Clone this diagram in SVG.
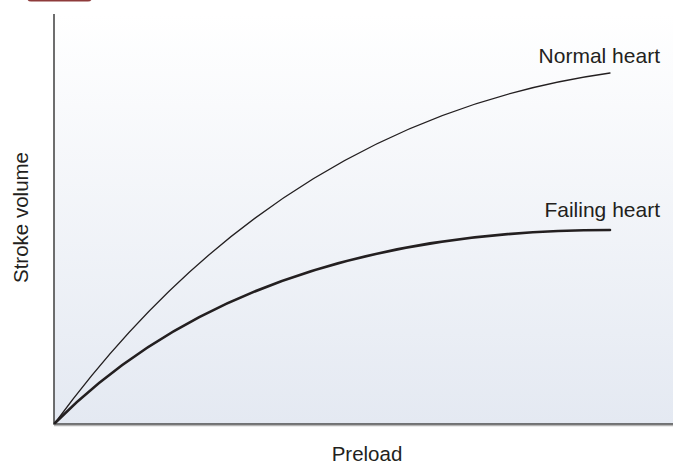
<svg xmlns="http://www.w3.org/2000/svg" width="673" height="464" viewBox="0 0 673 464">
<defs>
<linearGradient id="bg" x1="0" y1="0" x2="0" y2="1">
<stop offset="0" stop-color="#ffffff"/>
<stop offset="1" stop-color="#e4e9f2"/>
</linearGradient>
</defs>
<style>
.lbl{font-family:"Liberation Sans",Arial,sans-serif;font-size:20.5px;fill:#231f20}
.big{font-size:21px}
.axis{stroke:#4a4a4a;stroke-width:1.6;fill:none}
.curve{stroke:#231f20;fill:none;stroke-linecap:round}
</style>
<rect width="673" height="464" fill="#ffffff"/>
<rect x="27" y="-10" width="65" height="11.5" rx="4" fill="#8e3b3b"/>
<g id="plot-area">
<rect x="54" y="14" width="619" height="410" fill="url(#bg)"/>
</g>
<g id="axes">
<line class="axis" x1="54" y1="14" x2="54" y2="424"/>
<line x1="54" y1="425.6" x2="673" y2="425.6" stroke="#b5b5b5" stroke-width="1.2"/>
<line class="axis" x1="53.2" y1="424" x2="673" y2="424" stroke="#2a2a2a"/>
</g>
<g id="connectors">
<path id="normal-curve" class="curve" stroke-width="1.3" d="M55,423 Q277,120 610,73"/>
<path id="failing-curve" class="curve" stroke-width="2.6" d="M55,423 Q247,230 610,230"/>
</g>
<g id="label-normal"><text class="lbl big" x="660" y="63" text-anchor="end">Normal heart</text></g>
<g id="label-failing"><text class="lbl big" x="660" y="217" text-anchor="end">Failing heart</text></g>
<g id="label-x"><text class="lbl" x="367" y="461" text-anchor="middle">Preload</text></g>
<g id="label-y"><text class="lbl" transform="translate(27.5,217.5) rotate(-90)" text-anchor="middle">Stroke volume</text></g>
</svg>
